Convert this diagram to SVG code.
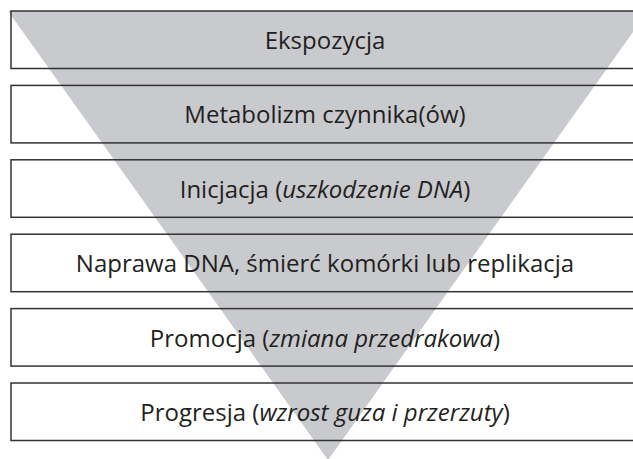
<svg xmlns="http://www.w3.org/2000/svg" width="633" height="459" viewBox="0 0 633 459">
  <style>
    .box { fill: none; stroke: #333; stroke-width: 1.5; }
    .lbl { font-family: "Open Sans", "Liberation Sans", sans-serif; font-size: 24px; fill: #231f20; text-anchor: middle; }
    .it { font-style: italic; }
  </style>
  <rect width="633" height="459" fill="#fff"/>
  <!-- funnel behind the stages -->
  <polygon id="funnel" points="8,11 648,11 328,460" fill="#c9cacd"/>
  <g id="stage1">
    <rect class="box" x="11" y="11" width="640" height="57.5"/>
    <text class="lbl" x="325" y="49">Ekspozycja</text>
  </g>
  <g id="stage2">
    <rect class="box" x="11" y="85.4" width="640" height="57.5"/>
    <text class="lbl" x="325" y="123.4">Metabolizm czynnika(ów)</text>
  </g>
  <g id="stage3">
    <rect class="box" x="11" y="159.8" width="640" height="57.5"/>
    <text class="lbl" x="325" y="197.8">Inicjacja (<tspan class="it">uszkodzenie DNA</tspan>)</text>
  </g>
  <g id="stage4">
    <rect class="box" x="11" y="234.2" width="640" height="57.5"/>
    <text class="lbl" x="325" y="272.2">Naprawa DNA, śmierć komórki lub replikacja</text>
  </g>
  <g id="stage5">
    <rect class="box" x="11" y="308.6" width="640" height="57.5"/>
    <text class="lbl" x="325" y="346.6">Promocja (<tspan class="it">zmiana przedrakowa</tspan>)</text>
  </g>
  <g id="stage6">
    <rect class="box" x="11" y="383" width="640" height="57.5"/>
    <text class="lbl" x="325" y="421">Progresja (<tspan class="it">wzrost guza i przerzuty</tspan>)</text>
  </g>
  <g id="connectors"></g>
</svg>
